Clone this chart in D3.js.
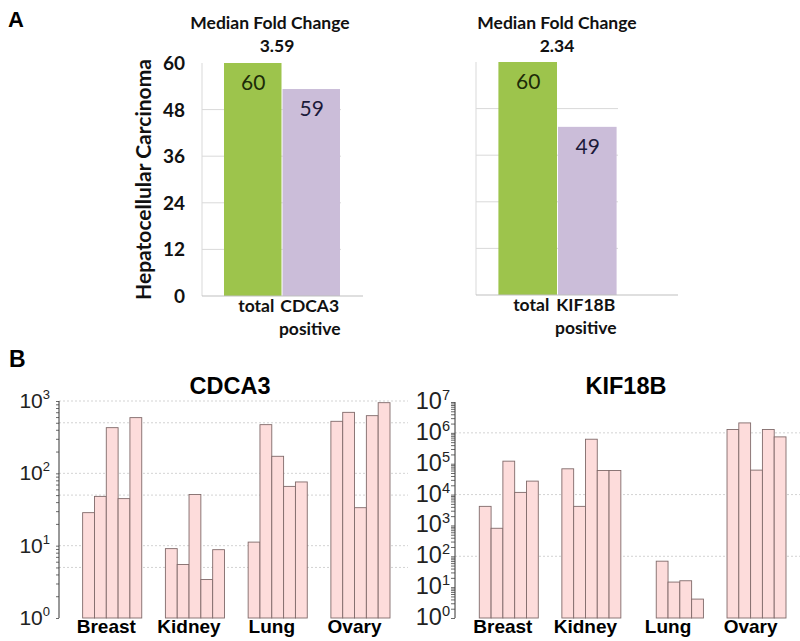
<!DOCTYPE html>
<html><head><meta charset="utf-8">
<script src="https://cdn.jsdelivr.net/npm/d3@7"></script>
<style>body{margin:0;background:#fff}svg{display:block}</style>
</head><body>
<script>
// ---------- Data ----------
// Panel A
const aCategoriesLeft = ["total", "CDCA3 positive"];
const aBarsLeft = [60, 53.3];          // bar heights as drawn
const aLabelsLeft = ["60", "59"];      // value labels as printed
const aFoldLeft = "3.59";
const aCategoriesRight = ["total", "KIF18B positive"];
const aBarsRight = [60, 43.3];
const aLabelsRight = ["60", "49"];
const aFoldRight = "2.34";
const aTicks = [0, 12, 24, 36, 48, 60];

// Panel B
const tissues = ["Breast", "Kidney", "Lung", "Ovary"];
const cdca3Breast = [1, 28.6, 48, 428, 44.7, 589];
const cdca3Kidney = [1, 9.1, 5.5, 51, 3.4, 8.8];
const cdca3Lung   = [1, 11.2, 471, 172, 66, 76];
const cdca3Ovary  = [1, 524, 697, 33.5, 627, 948];
const kif18bBreast = [1, 4150, 809, 121000, 11770, 27300];
const kif18bKidney = [1, 68400, 4150, 622000, 60400, 60400];
const kif18bLung   = [1, 1, 69.4, 14.6, 16.1, 4.1];
const kif18bOvary  = [1, 1280000, 2100000, 62000, 1280000, 740000];
const cdca3Exponents = [0, 1, 2, 3];
const kif18bExponents = [0, 1, 2, 3, 4, 5, 6, 7];
const cdca3Grid = [5, 10, 50, 100, 500, 1000];
const kif18bGrid = [100, 10000, 1000000];

// ---------- Drawing ----------
const W = 800, H = 641;
const svg = d3.select("body").append("svg").attr("width", W).attr("height", H);

const GREEN = "#9dc44c", PURPLE = "#cbbdd9";
const fontA = "Lato, 'Open Sans', sans-serif";
const fontB = "'Liberation Sans', Arial, Helvetica, sans-serif";

svg.append("text").attr("x", 8).attr("y", 27).attr("font-family", fontB)
  .attr("font-weight", "bold").attr("font-size", 22).text("A");
svg.append("text").attr("x", 9).attr("y", 367).attr("font-family", fontB)
  .attr("font-weight", "bold").attr("font-size", 23).text("B");

function panelA(o) {
  const g = svg.append("g");
  const y = d3.scaleLinear().domain([0, 60]).range([o.y0, o.y1]);
  const x = d3.scaleBand().domain(o.cats).range([o.axisX, o.bandEnd])
    .paddingInner(0).paddingOuter(0.376);
  // gridlines
  g.selectAll("line.grid").data(aTicks.filter(t => t > 0 && t < 60)).join("line")
    .attr("x1", o.axisX).attr("x2", x.range()[1] - 22)
    .attr("y1", d => y(d)).attr("y2", d => y(d))
    .attr("stroke", "#d9d9d9").attr("stroke-width", 1);
  // axis line
  g.append("line").attr("x1", o.axisX).attr("x2", o.axisX)
    .attr("y1", y(60)).attr("y2", y(0)).attr("stroke", "#d9d9d9");
  // bars
  g.selectAll("rect").data(o.vals).join("rect")
    .attr("x", (d, i) => x(o.cats[i])).attr("width", x.bandwidth() - 1)
    .attr("y", d => y(d)).attr("height", d => y(0) - y(d))
    .attr("fill", (d, i) => i === 0 ? GREEN : PURPLE);
  // baseline
  g.append("line").attr("x1", o.axisX).attr("x2", o.baseEnd)
    .attr("y1", y(0)).attr("y2", y(0)).attr("stroke", "#bfbfbf");
  // value labels
  g.selectAll("text.val").data(o.vals).join("text")
    .attr("x", (d, i) => x(o.cats[i]) + x.bandwidth() / 2)
    .attr("y", d => y(d) + 27)
    .attr("text-anchor", "middle").attr("font-family", fontA).attr("font-size", 21)
    .attr("fill", (d, i) => i === 0 ? "#1d2c08" : "#1c1a3a")
    .text((d, i) => o.labels[i]);
  // category labels
  o.cats.forEach((c, i) => {
    const parts = c.split(" ");
    parts.forEach((p, k) => {
      g.append("text").attr("x", x(c) + x.bandwidth() / 2 + (i === 0 ? 3 : -2))
        .attr("y", y(0) + 16 + k * 23).attr("text-anchor", "middle")
        .attr("font-family", fontA).attr("font-weight", "bold").attr("font-size", 17.5)
        .attr("fill", "#111").text(p);
    });
  });
  // titles
  g.append("text").attr("x", o.titleX).attr("y", 29).attr("text-anchor", "middle")
    .attr("font-family", fontA).attr("font-weight", "bold").attr("font-size", 17.5)
    .attr("fill", "#111").text("Median Fold Change");
  g.append("text").attr("x", o.titleX + o.foldDx).attr("y", 52).attr("text-anchor", "middle")
    .attr("font-family", fontA).attr("font-weight", "bold").attr("font-size", 17.5)
    .attr("fill", "#111").text(o.fold);
  if (o.ticks) {
    g.selectAll("text.tick").data(aTicks).join("text")
      .attr("x", o.axisX - 17).attr("y", d => y(d) + 7).attr("text-anchor", "end")
      .attr("font-family", fontA).attr("font-weight", "bold").attr("font-size", 19)
      .attr("fill", "#111").text(d => d);
    g.append("text").attr("transform", `translate(151,${(y(0) + y(60)) / 2}) rotate(-90)`)
      .attr("text-anchor", "middle").attr("font-family", fontA).attr("font-weight", "bold")
      .attr("font-size", 21).attr("fill", "#111").text("Hepatocellular Carcinoma");
  }
}

panelA({cats: aCategoriesLeft, vals: aBarsLeft, labels: aLabelsLeft, fold: aFoldLeft,
  axisX: 202, bandEnd: 363, baseEnd: 363, y0: 296, y1: 63, titleX: 270, foldDx: 7, ticks: true});
panelA({cats: aCategoriesRight, vals: aBarsRight, labels: aLabelsRight, fold: aFoldRight,
  axisX: 476, bandEnd: 640, baseEnd: 678, y0: 295, y1: 62, titleX: 557, foldDx: 0, ticks: false});

function panelB(o) {
  const g = svg.append("g");
  const maxExp = o.exps[o.exps.length - 1];
  const y = d3.scaleLog().domain([1, Math.pow(10, maxExp)]).range([618, o.yTop]);
  const x = d3.scaleLinear().domain([0, 28]).range([o.x0, o.x1]);
  // grid
  g.selectAll("line.grid").data(o.grid).join("line")
    .attr("x1", o.axisX).attr("x2", o.gridEnd)
    .attr("y1", d => y(d)).attr("y2", d => y(d))
    .attr("stroke", "#c8c8c8").attr("stroke-dasharray", "2,2").attr("stroke-width", 0.8);
  // bars
  o.series.forEach((vals, i) => {
    g.selectAll(null).data(vals).join("rect")
      .attr("x", (d, j) => x(7 * i + 1 + j)).attr("width", x(1) - x(0))
      .attr("y", d => y(d)).attr("height", d => y(1) - y(d))
      .attr("fill", "#fddcdb").attr("stroke", "#806a6a").attr("stroke-width", 0.9);
    g.append("text").attr("x", x(7 * i + 4)).attr("y", 633).attr("text-anchor", "middle")
      .attr("font-family", fontB).attr("font-weight", "bold").attr("font-size", 19)
      .attr("fill", "#000").text(tissues[i]);
  });
  // axis with minor ticks
  const tickVals = [];
  o.exps.forEach(e => {
    if (e < maxExp) for (let m = 1; m < 10; m++) tickVals.push(m * Math.pow(10, e));
    else tickVals.push(Math.pow(10, e));
  });
  const axis = d3.axisLeft(y).tickValues(tickVals).tickSize(o.tick).tickFormat("");
  const ag = g.append("g").attr("transform", `translate(${o.axisX},0)`).call(axis);
  ag.select(".domain").attr("stroke", "#333").attr("d", `M0,${y(1)}V${y(Math.pow(10, maxExp))}`);
  ag.selectAll(".tick line").attr("stroke", "#444").attr("stroke-width", 0.8);
  // labels 10^n
  o.exps.forEach(e => {
    const t = g.append("text").attr("x", o.labelX).attr("y", y(Math.pow(10, e)) + 7)
      .attr("text-anchor", "end").attr("font-family", fontB).attr("font-size", o.lfs).attr("fill", "#222");
    t.append("tspan").text("10");
    t.append("tspan").attr("dy", -9).attr("font-size", o.lfs * 0.62).text(e);
  });
  g.append("text").attr("x", o.titleX).attr("y", 394).attr("text-anchor", "middle")
    .attr("font-family", fontB).attr("font-weight", "bold").attr("font-size", 23.5)
    .attr("fill", "#000").text(o.title);
}

panelB({series: [cdca3Breast, cdca3Kidney, cdca3Lung, cdca3Ovary], exps: cdca3Exponents,
  grid: cdca3Grid, yTop: 401, x0: 59, x1: 390, axisX: 59, gridEnd: 408, tick: 3,
  labelX: 50, lfs: 21, title: "CDCA3", titleX: 230});
panelB({series: [kif18bBreast, kif18bKidney, kif18bLung, kif18bOvary], exps: kif18bExponents,
  grid: kif18bGrid, yTop: 402, x0: 455.7, x1: 786, axisX: 455, gridEnd: 800, tick: 4,
  labelX: 450, lfs: 23.5, title: "KIF18B", titleX: 626});
</script>
</body></html>
